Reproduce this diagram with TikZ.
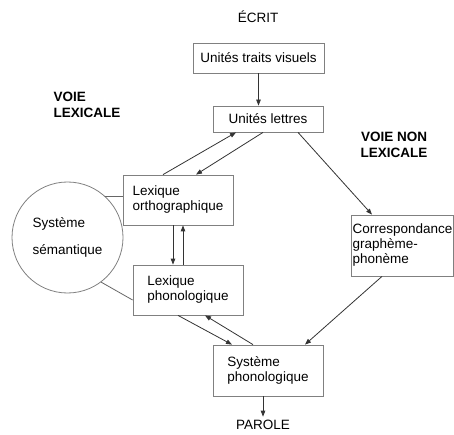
\documentclass[tikz,border=0pt]{standalone}
\usepackage{fontspec}
\setmainfont{Liberation Sans}
\usetikzlibrary{arrows.meta}
\begin{document}
\begin{tikzpicture}[x=1pt,y=-1pt,
	font=\fontsize{13.5}{15}\selectfont,
	box/.style={draw=black!50,line width=0.8pt,align=left,inner xsep=1pt,inner ysep=2pt},
	arr/.style={draw=black!80,line width=0.8pt,-{Triangle[length=6pt,width=4.5pt]}},
	link/.style={draw=black!60,line width=0.8pt}]
	\useasboundingbox (0,0) rectangle (454,435);
	% entree et sortie
	\node (ecrit) at (258,17) {ÉCRIT};
	\node (parole) at (263,425) {PAROLE};
	\node[align=left,font=\fontsize{13.5}{16}\selectfont\bfseries,anchor=west] (voielex) at (50,105) {VOIE\\LEXICALE};
	\node[align=center,font=\fontsize{13.5}{16}\selectfont\bfseries] (voienonlex) at (394,145) {VOIE NON\\LEXICALE};
	% boites
	\node[box,minimum width=131,minimum height=30] (traits) at (258.5,58) {Unités traits visuels};
	\node[box,minimum width=110,minimum height=26] (lettres) at (268,119) {Unités lettres};
	\node[box,minimum width=110,minimum height=50] (lexortho) at (178,200) {Lexique\\orthographique};
	\node[box,minimum width=110,minimum height=50] (lexphono) at (188,290) {Lexique\\phonologique};
	\node[box,minimum width=110,minimum height=51] (sysphono) at (268,370.5) {Système\\phonologique};
	\node[box,minimum width=99,minimum height=61] (cgp) at (402.5,245.5) {Correspondance\\graphème-\\phonème};
	\node[circle,draw=black!50,line width=0.8pt,minimum size=111,align=left] (sem) at (67.5,237.5) {Système\\[12pt]sémantique};
	% fleches
	\draw[arr] (traits.south) -- (traits.south |- lettres.north);
	\draw[arr] ([xshift=-15pt]lexortho.north) -- ([xshift=-32pt]lettres.south);
	\draw[arr] ([xshift=-5pt]lettres.south) -- ([xshift=18pt]lexortho.north);
	\draw[arr] ([xshift=30pt]lettres.south) -- ([xshift=-30.5pt]cgp.north);
	\draw[arr] ([xshift=-5pt]lexortho.south) -- ([xshift=-5pt]lexortho.south |- lexphono.north);
	\draw[arr] ([xshift=5pt]lexortho.south |- lexphono.north) -- ([xshift=5pt]lexortho.south);
	\draw[arr] ([xshift=-10pt]lexphono.south) -- ([xshift=-36pt]sysphono.north);
	\draw[arr] ([xshift=-15pt]sysphono.north) -- ([xshift=17pt]lexphono.south);
	\draw[arr] ([xshift=-20.5pt]cgp.south) -- ([xshift=37pt]sysphono.north);
	\draw[arr] (parole |- sysphono.south) -- (parole.north);
	% liens du systeme semantique
	\draw[link] (sem.48) -- (sem.48 -| lexortho.west);
	\draw[link] (sem.-53) -- ([yshift=-10pt]lexphono.west);
\end{tikzpicture}
\end{document}
